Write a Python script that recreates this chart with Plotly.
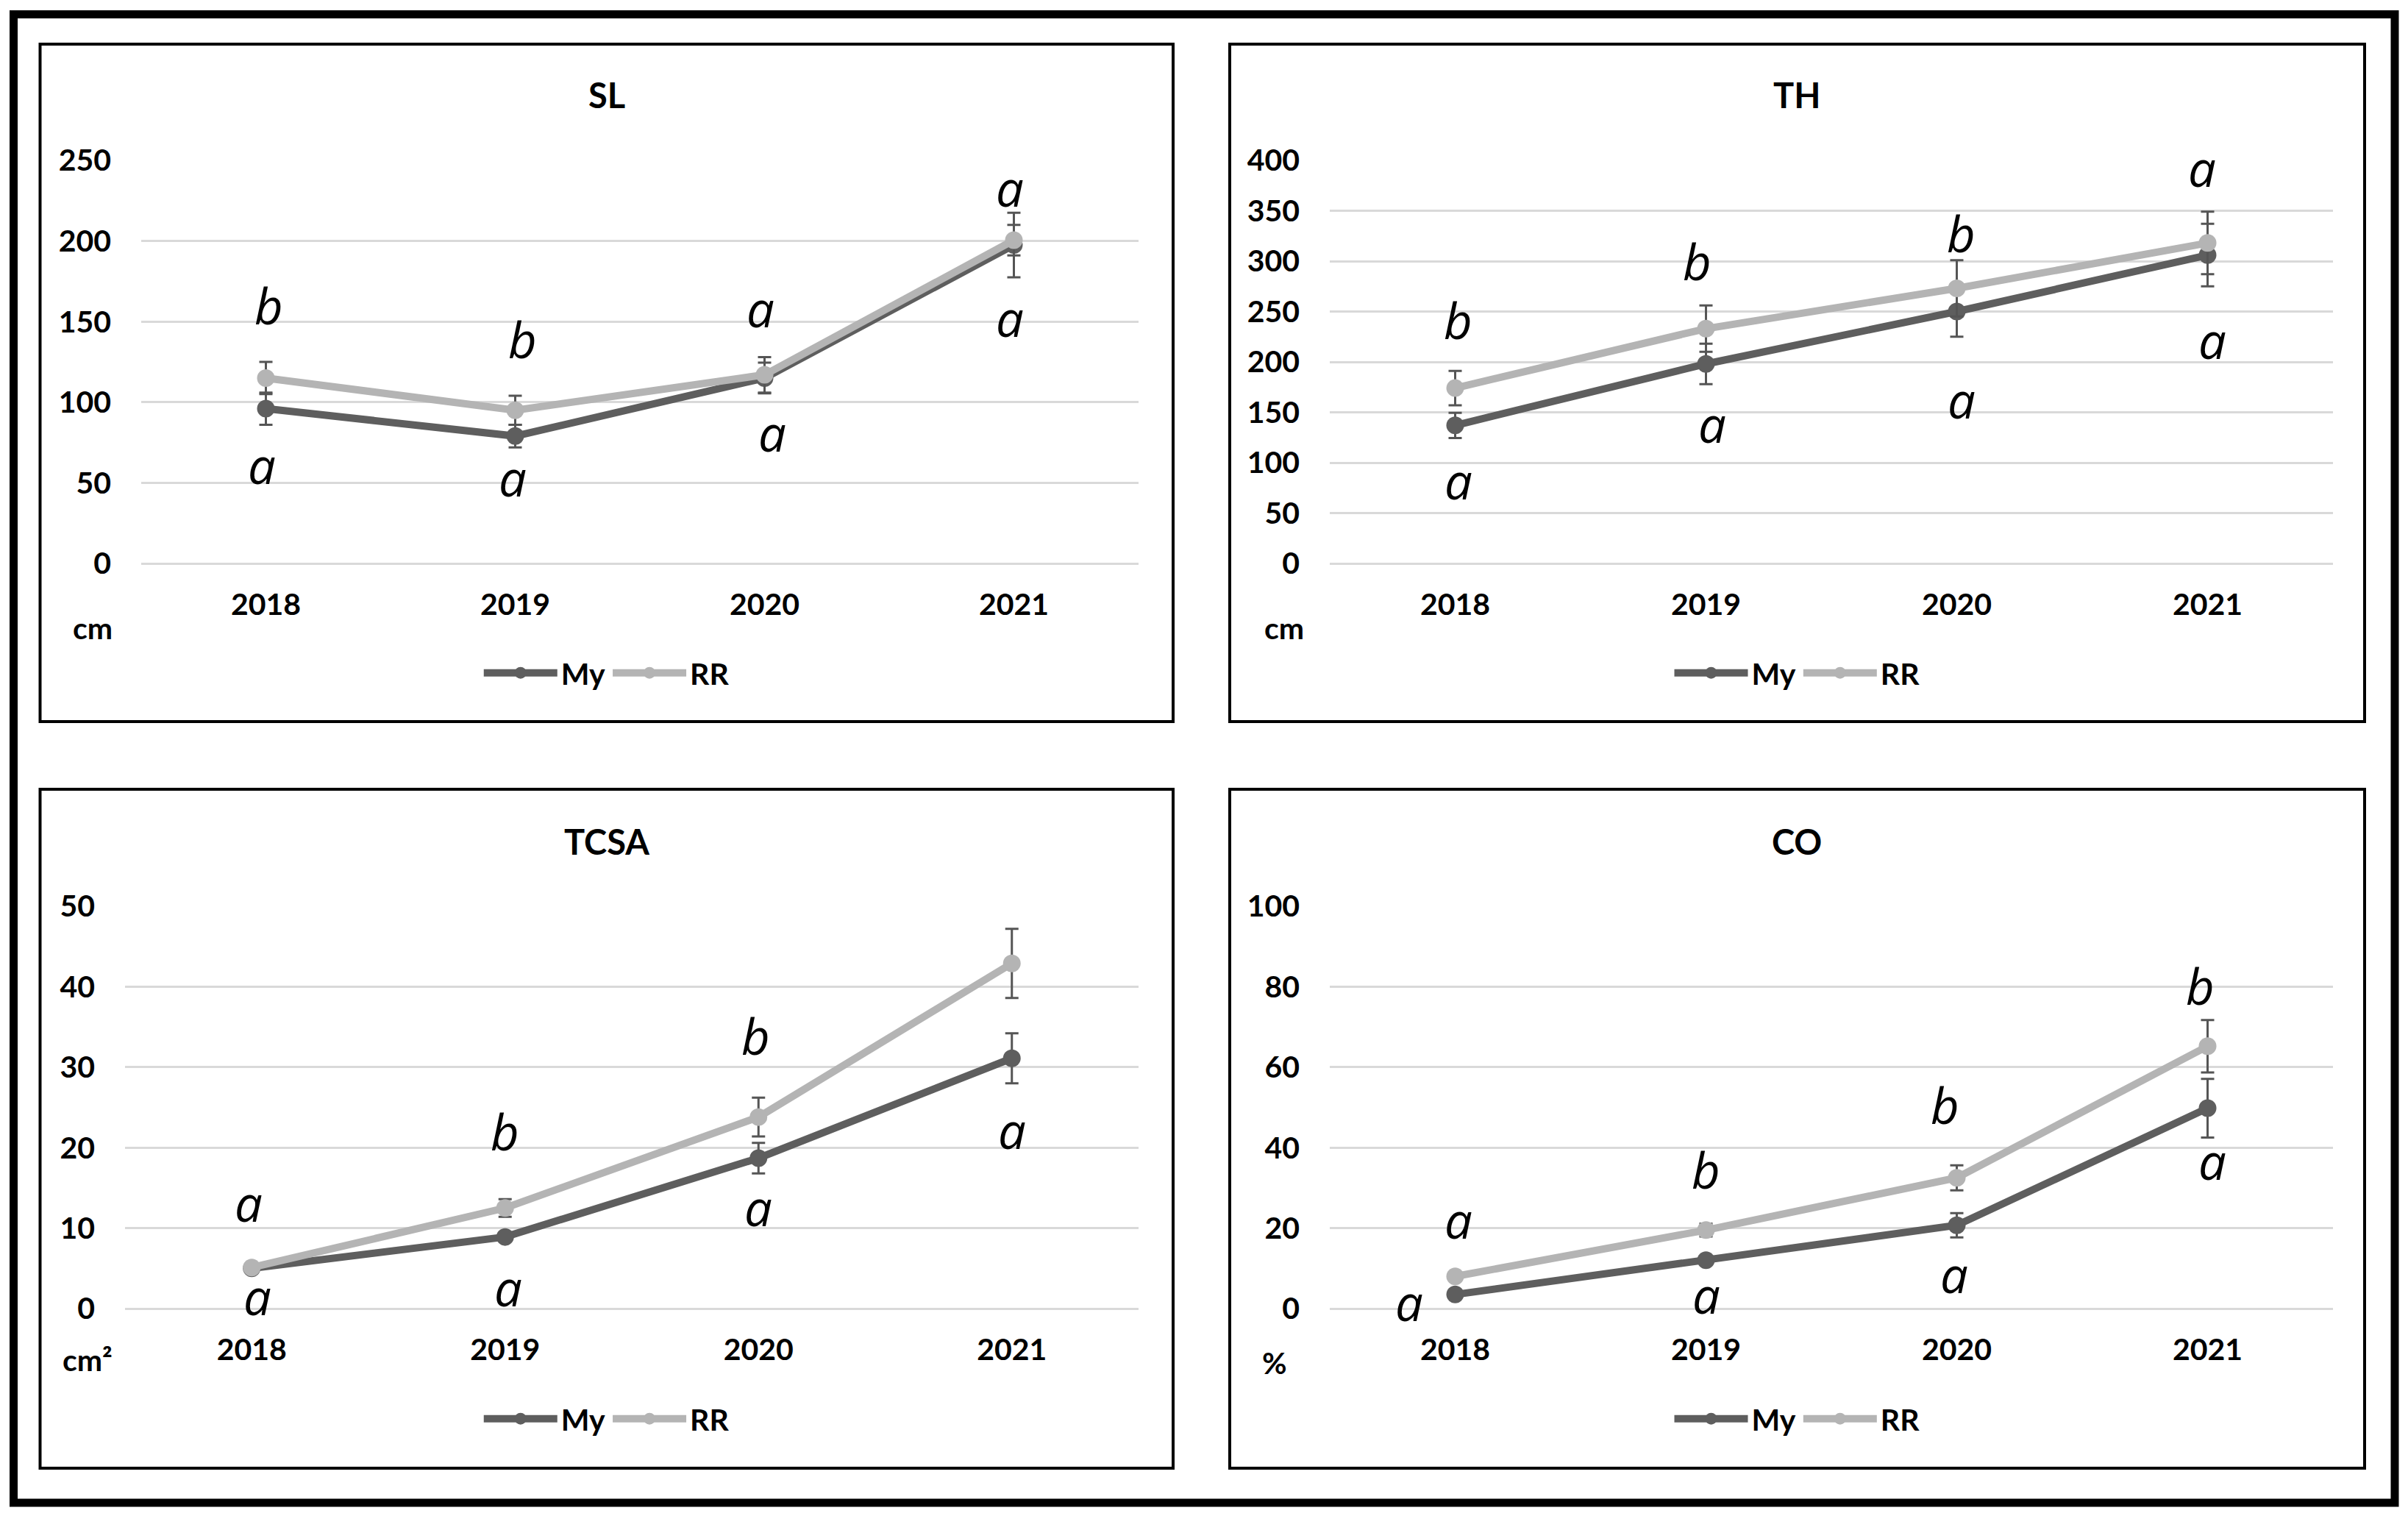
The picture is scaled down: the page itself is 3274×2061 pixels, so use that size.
import plotly.graph_objects as go

W, H = 3274, 2061
OFF = 8  # default page body margin of the html page

# ---------------- data ----------------
years = ["2018", "2019", "2020", "2021"]
series_names = ["My", "RR"]

sl_my = [96, 79, 115, 197.5]
sl_my_err = [10, 7, 9.5, 20]
sl_rr = [115, 95, 117, 200.5]
sl_rr_err = [10, 9, 11, 9.5]
sl_top_letters = ["b", "b", "a", "a"]
sl_bot_letters = ["a", "a", "a", "a"]

th_my = [137, 198, 250, 306]
th_my_err = [12.5, 20, 25, 31]
th_rr = [174, 233, 273, 318]
th_rr_err = [17, 23, 28, 31]
th_top_letters = ["b", "b", "b", "a"]
th_bot_letters = ["a", "a", "a", "a"]

tcsa_my = [5.0, 8.9, 18.7, 31.1]
tcsa_my_err = [0.3, 0.5, 1.9, 3.1]
tcsa_rr = [5.1, 12.5, 23.8, 42.9]
tcsa_rr_err = [0.3, 1.1, 2.4, 4.3]
tcsa_top_letters = ["a", "b", "b", "b"]
tcsa_bot_letters = ["a", "a", "a", "a"]

co_my = [3.5, 12.0, 20.7, 49.8]
co_my_err = [0.5, 1.0, 3.0, 7.3]
co_rr = [8.0, 19.5, 32.5, 65.2]
co_rr_err = [0.8, 1.6, 3.1, 6.5]
co_top_letters = ["a", "b", "b", "b"]
co_bot_letters = ["a", "a", "a", "a"]

# ---------------- styling / placement ----------------
MY_C = "#5e5e5e"
RR_C = "#b4b4b4"
ERR_C = "#555555"
GRID_C = "#d9d9d9"
TICK_FONT = dict(family="Lato", size=41, color="black", weight="bold")
LETTER_FONT = dict(family="Open Sans", size=67, color="black", style="italic")

panels = [
    dict(title="SL", unit="cm", ymax=250, dtick=50,
         my=sl_my, my_err=sl_my_err, rr=sl_rr, rr_err=sl_rr_err,
         top=sl_top_letters, bot=sl_bot_letters,
         top_y=[158, 137, 156, 231], bot_y=[59, 51, 79, 150],
         top_dx=[4, 10, -6, -6], bot_dx=[-6, -4, 10, -6],
         box=(54.5, 60, 1595, 981), plot=(192, 218, 1548, 766),
         title_xy=(825, 129), unit_xy=(126, 853), legend_y=915),
    dict(title="TH", unit="cm", ymax=400, dtick=50,
         my=th_my, my_err=th_my_err, rr=th_rr, rr_err=th_rr_err,
         top=th_top_letters, bot=th_bot_letters,
         top_y=[238, 296, 324, 389], bot_y=[79, 135, 159, 218],
         top_dx=[4, -12, 6, -8], bot_dx=[4, 8, 6, 6],
         box=(1672, 60, 3215, 981), plot=(1808, 218, 3172, 766),
         title_xy=(2443, 129), unit_xy=(1746, 853), legend_y=915),
    dict(title="TCSA", unit="cm²", ymax=50, dtick=10,
         my=tcsa_my, my_err=tcsa_my_err, rr=tcsa_rr, rr_err=tcsa_rr_err,
         top=tcsa_top_letters, bot=tcsa_bot_letters,
         top_y=[12.7, 21.6, 33.5, 51.6], bot_y=[1.1, 2.2, 12.2, 21.8],
         top_dx=[-4, 0, -4, 0], bot_dx=[8, 4, 0, 0],
         box=(54.5, 1073, 1595, 1996), plot=(170, 1232, 1548, 1779),
         title_xy=(825, 1144), unit_xy=(119, 1848), legend_y=1929),
    dict(title="CO", unit="%", ymax=100, dtick=20,
         my=co_my, my_err=co_my_err, rr=co_rr, rr_err=co_rr_err,
         top=co_top_letters, bot=co_bot_letters,
         top_y=[21.2, 33.7, 49.8, 79.4], bot_y=[0.7, 2.6, 7.7, 35.9],
         top_dx=[4, 0, -16, -10], bot_dx=[-63, 0, -4, 6],
         box=(1672, 1073, 3215, 1996), plot=(1808, 1232, 3172, 1779),
         title_xy=(2443, 1144), unit_xy=(1733, 1852), legend_y=1929),
]


def px(x):
    return (x - OFF) / W


def py(y):
    return 1 - (y - OFF) / H


fig = go.Figure()
layout = dict(
    width=W, height=H, margin=dict(l=0, r=0, t=0, b=0, autoexpand=False),
    paper_bgcolor="white", plot_bgcolor="white",
    showlegend=True, annotations=[], shapes=[],
)

# outer frame
layout["shapes"].append(dict(type="rect", xref="paper", yref="paper",
                             x0=px(18.5), x1=px(3256), y0=py(19.5), y1=py(2043),
                             line=dict(color="black", width=11), fillcolor="rgba(0,0,0,0)"))

for i, p in enumerate(panels):
    n = "" if i == 0 else str(i + 1)
    xa, ya = "x" + n, "y" + n
    leg = "legend" + n
    x0, y0, x1, y1 = p["plot"]
    layout["xaxis" + n] = dict(
        domain=[px(x0), px(x1)], anchor=ya, type="category",
        range=[-0.5, 3.5], showgrid=False, zeroline=False, showline=False,
        ticks="", tickfont=TICK_FONT, ticklabelstandoff=28, fixedrange=True,
    )
    layout["yaxis" + n] = dict(
        domain=[py(y1), py(y0)], anchor=xa, range=[0, p["ymax"]],
        dtick=p["dtick"], tick0=0, showgrid=True, gridcolor=GRID_C, gridwidth=3,
        zeroline=True, zerolinecolor=GRID_C, zerolinewidth=3, showline=False,
        ticks="", tickfont=TICK_FONT, ticklabelstandoff=40, fixedrange=True,
    )
    layout[leg] = dict(
        orientation="h", x=px((p["box"][0] + p["box"][2]) / 2), y=py(p["legend_y"]),
        xanchor="center", yanchor="middle", font=TICK_FONT,
        itemwidth=100, bgcolor="rgba(0,0,0,0)", tracegroupgap=0, itemsizing="trace",
    )
    for name, vals, errs, col in [("My", p["my"], p["my_err"], MY_C),
                                  ("RR", p["rr"], p["rr_err"], RR_C)]:
        fig.add_trace(go.Scatter(
            x=years, y=vals, name=name, mode="lines+markers",
            line=dict(color=col, width=10), marker=dict(color=col, size=24),
            error_y=dict(type="data", array=errs, color=ERR_C, thickness=3, width=9),
            xaxis=xa, yaxis=ya, legend=leg, cliponaxis=False,
        ))
    # panel box
    bx0, by0, bx1, by1 = p["box"]
    layout["shapes"].append(dict(type="rect", xref="paper", yref="paper",
                                 x0=px(bx0), x1=px(bx1), y0=py(by0), y1=py(by1),
                                 line=dict(color="black", width=4),
                                 fillcolor="rgba(0,0,0,0)"))
    # title
    layout["annotations"].append(dict(
        text=p["title"], xref="paper", yref="paper", x=px(p["title_xy"][0]),
        y=py(p["title_xy"][1]), xanchor="center", yanchor="middle", showarrow=False,
        font=dict(family="Lato", size=47, color="black", weight="bold")))
    # unit
    layout["annotations"].append(dict(
        text=p["unit"], xref="paper", yref="paper", x=px(p["unit_xy"][0]),
        y=py(p["unit_xy"][1]), xanchor="center", yanchor="middle", showarrow=False,
        font=TICK_FONT))
    # significance letters (x given as category index)
    for k in range(len(years)):
        for lets, ys, dxs in [(p["top"], p["top_y"], p["top_dx"]),
                              (p["bot"], p["bot_y"], p["bot_dx"])]:
            layout["annotations"].append(dict(
                text=lets[k], xref=xa, yref=ya, x=k, y=ys[k], xshift=dxs[k],
                yshift=5, xanchor="center", yanchor="middle", showarrow=False,
                font=LETTER_FONT))

fig.update_layout(**layout)
fig.write_html("out.html")
